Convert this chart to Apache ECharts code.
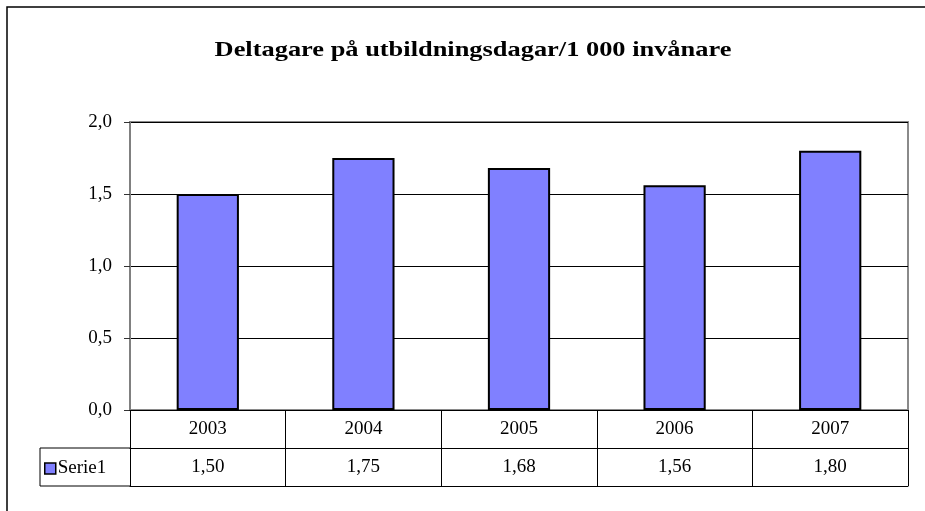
<!DOCTYPE html>
<html>
<head>
<meta charset="utf-8">
<script src="https://cdn.jsdelivr.net/npm/echarts@6/dist/echarts.min.js"></script>
<style>
  html, body { margin: 0; padding: 0; background: #fff; }
  #chart { width: 925px; height: 511px; }
</style>
</head>
<body>
<div id="chart"></div>
<script>
// Participants on training days per 1 000 inhabitants
const years = ['2003', '2004', '2005', '2006', '2007'];
const serie1 = [1.50, 1.75, 1.68, 1.56, 1.80];
const seriesName = 'Serie1';
const yTicks = [0, 0.5, 1.0, 1.5, 2.0];
const titleText = 'Deltagare på utbildningsdagar/1 000 invånare';

const FONT = '"Liberation Serif", "Times New Roman", serif';
const G = { left: 130, right: 17, top: 122, bottom: 101 }; // plot area
const ROW = 38;            // data table row height
const W = 925, H = 511;
const plotBottom = H - G.bottom;
const legendCellLeft = 40;

const comma = v => v.toFixed(1).replace('.', ',');
const comma2 = v => v.toFixed(2).replace('.', ',');

const chart = echarts.init(document.getElementById('chart'), null, { renderer: 'canvas' });

chart.setOption({
  animation: false,
  backgroundColor: '#fff',
  legend: {
    data: [{ name: seriesName }],
    left: legendCellLeft + 4,
    top: plotBottom + ROW + 11,
    padding: 0,
    icon: 'rect', itemWidth: 11, itemHeight: 11, itemGap: 2,
    itemStyle: { borderColor: '#000', borderWidth: 1.5 },
    textStyle: { fontFamily: FONT, fontSize: 19, color: '#000', padding: [0, 0, 0, -3] },
    selectedMode: false
  },
  grid: {
    left: G.left, right: G.right, top: G.top, bottom: G.bottom,
    show: true, borderColor: '#8a8a8a', borderWidth: 2, backgroundColor: '#fff'
  },
  xAxis: [
    {
      type: 'category', data: years, position: 'bottom',
      axisLine: { lineStyle: { color: '#000', width: 1 } },
      axisTick: { show: true, length: ROW * 2, lineStyle: { color: '#000', width: 1 } },
      axisLabel: { fontFamily: FONT, fontSize: 19, color: '#000', margin: 10 },
      z: 5
    },
    {
      type: 'category', data: serie1.map(comma2), position: 'bottom', offset: ROW,
      axisLine: { lineStyle: { color: '#000', width: 1 } },
      axisTick: { show: false },
      axisLabel: { fontFamily: FONT, fontSize: 19, color: '#000', margin: 10 }
    },
    {
      type: 'category', data: years, position: 'bottom', offset: ROW * 2,
      axisLine: { lineStyle: { color: '#000', width: 1 } },
      axisTick: { show: false },
      axisLabel: { show: false }
    }
  ],
  yAxis: {
    type: 'value', min: yTicks[0], max: yTicks[yTicks.length - 1], interval: 0.5,
    axisLine: { show: true, lineStyle: { color: '#808080', width: 2 } },
    axisTick: { show: true, length: 6, lineStyle: { color: '#333' } },
    axisLabel: { fontFamily: FONT, fontSize: 19, color: '#000', margin: 18, formatter: comma },
    splitLine: { show: true, lineStyle: { color: '#000', width: 1 } }
  },
  series: [{
    name: seriesName, type: 'bar', xAxisIndex: 0, data: serie1,
    barWidth: '40%',
    itemStyle: { color: '#8080FF', borderColor: '#000', borderWidth: 2 },
    z: 3
  }],
  graphic: [
    // outer chart frame
    { type: 'rect', shape: { x: 7, y: 7, width: W + 20, height: H + 20 },
      style: { fill: null, stroke: '#000', lineWidth: 1.5 }, silent: true, z: 0 },
    // chart title, set in a slightly wide bold serif
    { type: 'text', x: 473, y: 50, scaleX: 1.2, silent: true, z: 10,
      style: { text: titleText, fontFamily: FONT, fontSize: 22, fontWeight: 'bold',
               fill: '#000', textAlign: 'center', textVerticalAlign: 'middle' } },
    // legend key cell of the data table
    { type: 'polyline',
      shape: { points: [[G.left, plotBottom + ROW], [legendCellLeft, plotBottom + ROW],
                        [legendCellLeft, plotBottom + ROW * 2], [G.left, plotBottom + ROW * 2]] },
      style: { fill: null, stroke: '#000', lineWidth: 1 }, silent: true, z: 10 }
  ]
});
</script>
</body>
</html>
